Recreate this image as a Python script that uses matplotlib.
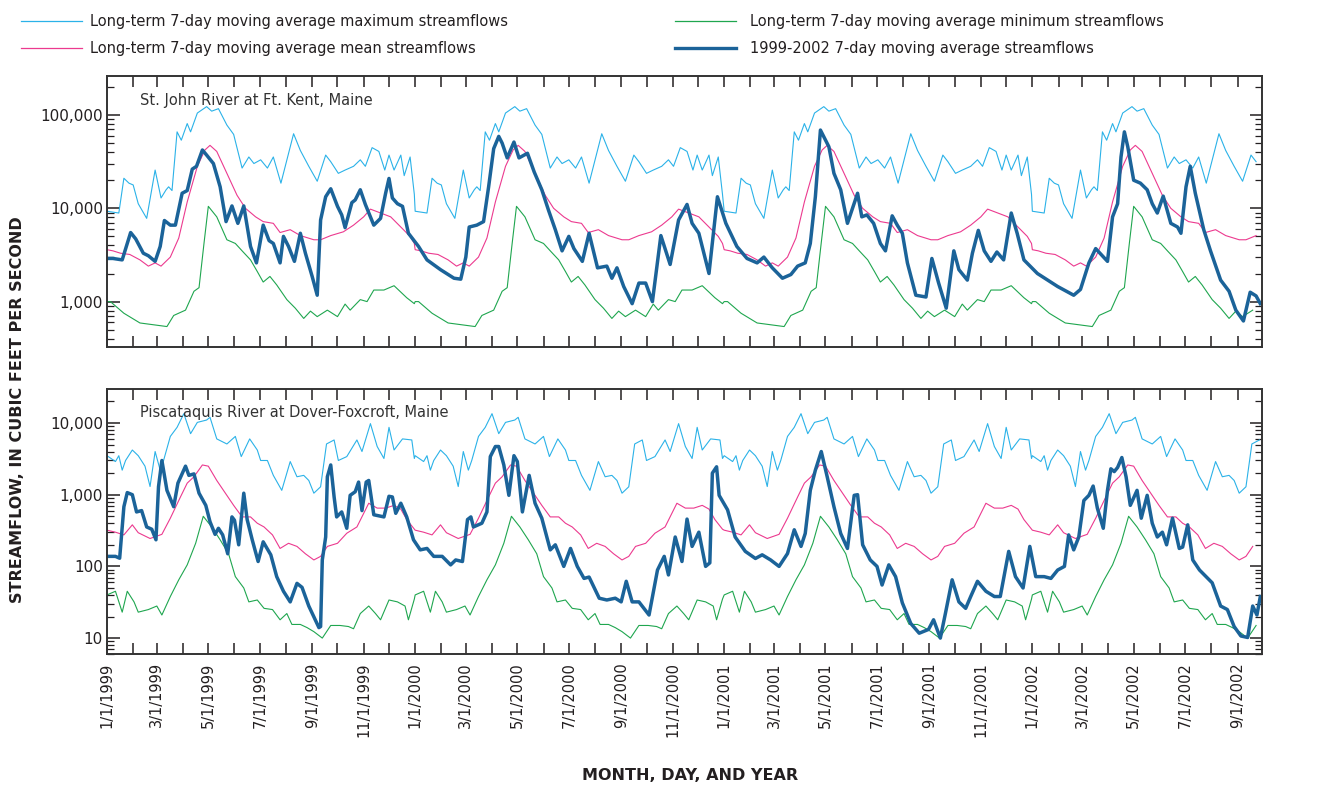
#7日滑动平均流量 1999-2002
import numpy as np
import matplotlib.pyplot as plt
import matplotlib.dates as mdates
from matplotlib.ticker import FuncFormatter, LogLocator, NullFormatter
from matplotlib.lines import Line2D

plt.rcParams['font.family'] = ['DejaVu Sans']
plt.rcParams['axes.unicode_minus'] = False

#长期统计值（按年内天数，每年重复）
#St. John River at Ft. Kent
sj_lt_days_max = [0, 7, 14, 20, 26, 31, 37, 47, 57, 64, 70, 73, 77, 83, 88, 95, 99, 107, 118, 124, 132,
                  142, 150, 160, 168, 174, 182, 190, 197, 206, 215, 221, 229, 239, 249, 259, 265, 274,
                  282, 292, 300, 306, 314, 322, 329, 334, 340, 348, 352, 359, 364]
sj_max = [9300, 9100, 8900, 21000, 18600, 17800, 11200, 7800, 25700, 12900, 15800, 17000, 15500, 66000,
          53700, 81000, 66000, 105000, 123000, 110000, 117000, 78000, 62000, 27000, 35500, 30200, 33100,
          27000, 35500, 18600, 38900, 63000, 41700, 28200, 19500, 37200, 31600, 23700, 25700, 28200,
          33100, 28200, 44700, 40700, 25700, 37200, 25700, 37200, 22400, 35500, 14100]
sj_lt_days_min = [0, 4, 20, 39, 71, 79, 93, 103, 109, 115, 120, 130, 142, 152, 160, 170, 178, 185, 193,
                  201, 213, 223, 233, 241, 249, 261, 273, 282, 288, 300, 308, 316, 328, 340, 355, 364]
sj_min = [1000, 1000, 750, 590, 540, 710, 810, 1290, 1410, 4300, 10500, 8100, 4600, 4200, 3500, 2800,
          2100, 1620, 1860, 1510, 1050, 850, 660, 790, 690, 810, 690, 940, 810, 1050, 1000, 1330, 1330,
          1480, 1100, 950]
sj_lt_days_mean = [0, 7, 16, 27, 39, 49, 57, 64, 75, 85, 95, 107, 116, 122, 130, 142, 154, 164, 176, 185,
                   197, 205, 217, 229, 245, 253, 265, 280, 292, 304, 312, 324, 336, 348, 359, 364]
sj_mean = [3600, 3500, 3300, 3200, 2800, 2400, 2600, 2400, 3000, 4800, 11700, 28200, 42200, 47300, 40700,
           23700, 13800, 10000, 8100, 7200, 6900, 5500, 5900, 5100, 4600, 4600, 5100, 5600, 6600, 8100,
           9800, 8900, 8100, 6300, 5000, 4200]

#Piscataquis River at Dover-Foxcroft
pq_lt_days_max = [0, 10, 14, 18, 22, 30, 37, 45, 51, 57, 63, 67, 75, 83, 91, 99, 107, 118, 122, 130, 142,
                  152, 159, 169, 178, 182, 190, 197, 207, 217, 225, 233, 239, 245, 253, 260, 269, 274,
                  284, 296, 302, 312, 320, 328, 334, 340, 350, 361, 364]
pq_max = [3500, 2900, 3500, 2200, 3000, 4200, 3500, 2500, 1300, 4000, 2200, 3000, 6500, 8700, 13500,
          7100, 10200, 11000, 12000, 6000, 5100, 6500, 3400, 6000, 4200, 3000, 3000, 1860, 1150, 2900,
          1780, 1860, 1580, 1050, 1290, 5100, 5800, 3000, 3400, 5800, 4000, 9800, 4700, 3200, 8700,
          4200, 6000, 5800, 3200]
pq_lt_days_min = [0, 10, 18, 24, 32, 37, 49, 59, 65, 75, 85, 95, 105, 114, 124, 134, 144, 152, 162, 168,
                  178, 186, 196, 205, 213, 219, 229, 237, 245, 255, 265, 276, 286, 292, 300, 310, 318,
                  324, 334, 344, 353, 357, 364]
pq_min = [40, 45, 23, 45, 32, 23, 25, 28, 21, 38, 65, 105, 210, 500, 355, 235, 150, 72, 50, 32, 34, 26,
          25, 18, 22, 15.5, 15.5, 14, 12.3, 10, 15, 15, 14.5, 13.5, 22, 28, 22, 18, 34, 32, 28, 18, 35]
pq_lt_days_mean = [0, 10, 20, 30, 37, 51, 65, 75, 87, 95, 103, 113, 120, 130, 142, 150, 160, 170, 178,
                   186, 196, 205, 215, 225, 235, 245, 253, 261, 273, 284, 296, 304, 310, 320, 330, 340,
                   348, 355, 364]
pq_mean = [320, 300, 275, 380, 295, 245, 280, 470, 930, 1450, 1780, 2600, 2500, 1580, 980, 710, 490,
           490, 400, 355, 275, 178, 210, 190, 150, 123, 138, 190, 210, 290, 355, 550, 760, 650, 650,
           710, 630, 450, 330]

#1999-2002 实测（自1999-01-01起的天数）
sj_obs_days = [0, 7, 18, 28, 34, 43, 49, 57, 63, 68, 75, 81, 89, 95, 101, 106, 113, 118, 126, 134, 141,
               148, 155, 162, 170, 177, 185, 192, 197, 205, 209, 215, 222, 229, 235, 243, 249, 253, 259,
               265, 273, 278, 282, 290, 294, 300, 306, 316, 324, 330, 334, 338, 344, 350, 357, 369, 379,
               395, 411, 419, 425, 429, 438, 446, 452, 458, 464, 468, 474, 482, 488, 498, 506, 515, 523,
               531, 539, 547, 553, 563, 571, 581, 592, 598, 604, 612, 622, 630, 638, 646, 656, 667, 677,
               687, 693, 701, 713, 723, 733, 746, 758, 770, 778, 788, 800, 810, 818, 827, 833, 839, 845,
               855, 861, 869, 877, 889, 894, 900, 908, 916, 922, 930, 936, 942, 948, 958, 970, 977, 985,
               994, 1003, 1009, 1019, 1025, 1032, 1039, 1047, 1054, 1062, 1071, 1078, 1086, 1102, 1126,
               1145, 1153, 1163, 1171, 1185, 1191, 1197, 1201, 1205, 1209, 1216, 1224, 1232, 1238, 1244,
               1251, 1260, 1268, 1272, 1278, 1283, 1289, 1299, 1307, 1319, 1329, 1337, 1346, 1354, 1361,
               1366]
sj_obs = [2900, 2900, 2800, 5500, 4700, 3300, 3100, 2700, 3900, 7400, 6600, 6600, 14500, 15500, 26300,
          28200, 42200, 37200, 30200, 17000, 7200, 10600, 6900, 10600, 3900, 2600, 6600, 4500, 4200, 2600,
          5000, 3900, 2700, 5400, 3300, 1860, 1170, 7500, 13300, 16200, 10500, 8500, 6200, 11500, 12300,
          15800, 11000, 6600, 7800, 14500, 20900, 12900, 11200, 10500, 5400, 3900, 2800, 2200, 1780, 1740,
          3000, 6300, 6600, 7200, 17000, 43600, 59000, 50000, 34700, 51300, 34700, 38900, 24500, 15800,
          9500, 5900, 3500, 5000, 3700, 2700, 5400, 2300, 2400, 1780, 2300, 1450, 950, 1580, 1580, 1000,
          5100, 2500, 7500, 11000, 6900, 5400, 2000, 13300, 6900, 3900, 2900, 2600, 3000, 2300, 1780,
          1950, 2400, 2600, 4200, 13300, 69000, 45700, 23700, 15800, 6900, 14500, 8100, 8500, 6900, 4200,
          3500, 8300, 6600, 5400, 2600, 1170, 1120, 2900, 1580, 850, 3500, 2200, 1700, 3300, 5800, 3500,
          2700, 3400, 2800, 8900, 5400, 2800, 2000, 1450, 1170, 1350, 2600, 3700, 2700, 8100, 11200,
          35500, 66000, 45700, 20000, 18600, 15800, 11200, 8900, 13500, 6900, 6300, 5400, 17000, 28200,
          14500, 5900, 3500, 1700, 1290, 810, 620, 1260, 1150, 950]

pq_obs_days = [0, 10, 15, 20, 24, 30, 35, 41, 47, 53, 58, 61, 65, 71, 79, 84, 93, 97, 103, 109, 117, 122,
               128, 132, 137, 143, 148, 151, 156, 162, 166, 172, 179, 185, 194, 201, 209, 217, 225, 231,
               239, 251, 253, 255, 259, 261, 265, 269, 272, 278, 284, 288, 294, 298, 302, 307, 310, 316,
               328, 334, 338, 342, 348, 355, 363, 371, 379, 387, 397, 407, 413, 421, 427, 431, 434, 444,
               450, 454, 460, 464, 470, 476, 482, 486, 492, 500, 507, 515, 525, 531, 541, 549, 557, 565,
               571, 583, 592, 602, 609, 615, 622, 630, 642, 652, 660, 665, 673, 681, 687, 693, 701, 709,
               714, 717, 722, 725, 735, 744, 756, 768, 776, 786, 796, 806, 814, 822, 827, 833, 839, 846,
               853, 861, 869, 877, 885, 889, 895, 904, 912, 918, 926, 934, 942, 952, 962, 973, 979, 987,
               993, 1001, 1009, 1017, 1023, 1031, 1041, 1051, 1058, 1068, 1076, 1085, 1093, 1100, 1110,
               1118, 1126, 1134, 1139, 1145, 1151, 1157, 1163, 1168, 1173, 1180, 1185, 1189, 1193, 1197,
               1202, 1207, 1212, 1220, 1225, 1232, 1238, 1244, 1250, 1255, 1262, 1270, 1274, 1280, 1286,
               1294, 1309, 1319, 1327, 1335, 1343, 1351, 1357, 1362, 1366]
pq_obs = [138, 138, 130, 680, 1070, 1000, 575, 600, 355, 330, 235, 1290, 3000, 1150, 680, 1450, 2500, 1860,
          1950, 1050, 710, 420, 280, 340, 275, 150, 490, 440, 200, 1050, 450, 235, 117, 220, 145, 72, 45,
          32, 58, 51, 28, 14, 14.5, 123, 257, 1780, 2600, 930, 490, 575, 340, 980, 1100, 1500, 600, 1500,
          1580, 525, 490, 950, 930, 550, 760, 490, 235, 170, 178, 138, 138, 105, 123, 117, 450, 490, 355,
          400, 575, 3400, 4700, 4700, 2600, 980, 3500, 2900, 575, 1860, 760, 470, 170, 200, 100, 178, 100,
          68, 71, 36, 34, 36, 32, 62, 32, 32, 21, 89, 138, 76, 257, 117, 457, 190, 300, 100, 112, 2000,
          2450, 980, 615, 257, 162, 129, 145, 123, 100, 151, 324, 190, 288, 1150, 2200, 4000, 1780, 680,
          288, 178, 980, 1000, 200, 123, 100, 55, 105, 72, 31, 16, 11.7, 13.2, 18, 10, 22, 65, 32, 26, 38,
          62, 45, 38, 38, 162, 72, 50, 190, 72, 72, 68, 89, 100, 275, 170, 257, 830, 980, 1320, 650, 340,
          1150, 2300, 2100, 2400, 3300, 1780, 710, 1150, 470, 980, 400, 257, 300, 200, 470, 178, 186, 380,
          123, 89, 59, 28, 25, 14.5, 10.7, 10.2, 28, 21, 38]

year_starts = [0, 365, 731, 1096]
last_day = 1368
start = np.datetime64('1999-01-01')

c_max = '#2bb2e8'
c_mean = '#ec3a8f'
c_min = '#1fa64f'
c_obs = '#1b6399'
ink = '#231f20'


def tile_years(days, vals):
    d = np.concatenate([np.array(days) + y for y in year_starts])
    v = np.tile(np.array(vals, dtype=float), len(year_starts))
    keep = d <= last_day
    return start + d[keep].astype('timedelta64[D]'), v[keep]


def to_dates(days):
    return start + np.array(days).astype('timedelta64[D]')


def comma(v, pos):
    return '{:,.0f}'.format(v)


def month_label(v, pos):
    d = mdates.num2date(v)
    if d.month % 2 == 1:
        return '%d/1/%d' % (d.month, d.year)
    return ''


def draw_panel(ax, lt_max, lt_mean, lt_min, obs_days, obs, ylim, title, show_x):
    ax.plot(*tile_years(*lt_max), color=c_max, lw=0.8)
    ax.plot(*tile_years(*lt_min), color=c_min, lw=0.8)
    ax.plot(*tile_years(*lt_mean), color=c_mean, lw=0.8)
    ax.plot(to_dates(obs_days), obs, color=c_obs, lw=2.5, solid_joinstyle='round')
    ax.set_yscale('log')
    ax.set_ylim(*ylim)
    ax.set_xlim(start, start + np.timedelta64(last_day, 'D'))
    ax.yaxis.set_major_locator(LogLocator(base=10))
    ax.yaxis.set_major_formatter(FuncFormatter(comma))
    ax.yaxis.set_minor_locator(LogLocator(base=10, subs=np.arange(2, 10)))
    ax.yaxis.set_minor_formatter(NullFormatter())
    ax.xaxis.set_major_locator(mdates.MonthLocator())
    if show_x:
        ax.xaxis.set_major_formatter(FuncFormatter(month_label))
    else:
        ax.xaxis.set_major_formatter(FuncFormatter(lambda v, p: ''))
    ax.tick_params(axis='x', which='major', direction='in', length=8, width=1.1, top=True,
                   colors=ink, labelsize=10.5, labelrotation=90, pad=6)
    ax.tick_params(axis='y', which='major', direction='in', length=9, width=1.1, right=True,
                   colors=ink, labelsize=11, pad=3)
    ax.tick_params(axis='y', which='minor', direction='in', length=5, width=0.9, right=True,
                   colors=ink)
    for s in ax.spines.values():
        s.set_linewidth(1.4)
        s.set_color('#333333')
    ax.text(0.029, 0.91, title, transform=ax.transAxes, fontsize=10.5, color='#333333',
            va='center', ha='left')


fig = plt.figure(figsize=(13.25, 7.91), dpi=100)
W, H = 1325.0, 791.0
ax1 = fig.add_axes([107 / W, 1 - 347 / H, 1155 / W, 271 / H])
ax2 = fig.add_axes([107 / W, 1 - 654 / H, 1155 / W, 265 / H])

draw_panel(ax1, (sj_lt_days_max, sj_max), (sj_lt_days_mean, sj_mean), (sj_lt_days_min, sj_min),
           sj_obs_days, sj_obs, (326, 262000), 'St. John River at Ft. Kent, Maine', False)
draw_panel(ax2, (pq_lt_days_max, pq_max), (pq_lt_days_mean, pq_mean), (pq_lt_days_min, pq_min),
           pq_obs_days, pq_obs, (6.0, 29800), 'Piscataquis River at Dover-Foxcroft, Maine', True)

fig.text(18 / W, 1 - 410 / H, 'STREAMFLOW, IN CUBIC FEET PER SECOND', rotation=90, ha='center',
         va='center', fontsize=11.5, fontweight='bold', color=ink)
fig.text(690 / W, 1 - 776 / H, 'MONTH, DAY, AND YEAR', ha='center', va='center', fontsize=11.5,
         fontweight='bold', color=ink)

#图例
h1 = [Line2D([], [], color=c_max, lw=0.9), Line2D([], [], color=c_mean, lw=0.9)]
l1 = ['Long-term 7-day moving average maximum streamflows', 'Long-term 7-day moving average mean streamflows']
h2 = [Line2D([], [], color=c_min, lw=0.9), Line2D([], [], color=c_obs, lw=2.4)]
l2 = ['Long-term 7-day moving average minimum streamflows', '1999-2002 7-day moving average streamflows']
fig.legend(h1, l1, loc='upper left', bbox_to_anchor=(8 / W, 1 - 1 / H), frameon=False, fontsize=10.5,
           handlelength=4.2, handletextpad=0.5, labelspacing=0.8, labelcolor=ink)
fig.legend(h2, l2, loc='upper left', bbox_to_anchor=(662 / W, 1 - 1 / H), frameon=False, fontsize=10.5,
           handlelength=4.2, handletextpad=0.9, labelspacing=0.8, labelcolor=ink)

fig.savefig('out.png', dpi=100)
